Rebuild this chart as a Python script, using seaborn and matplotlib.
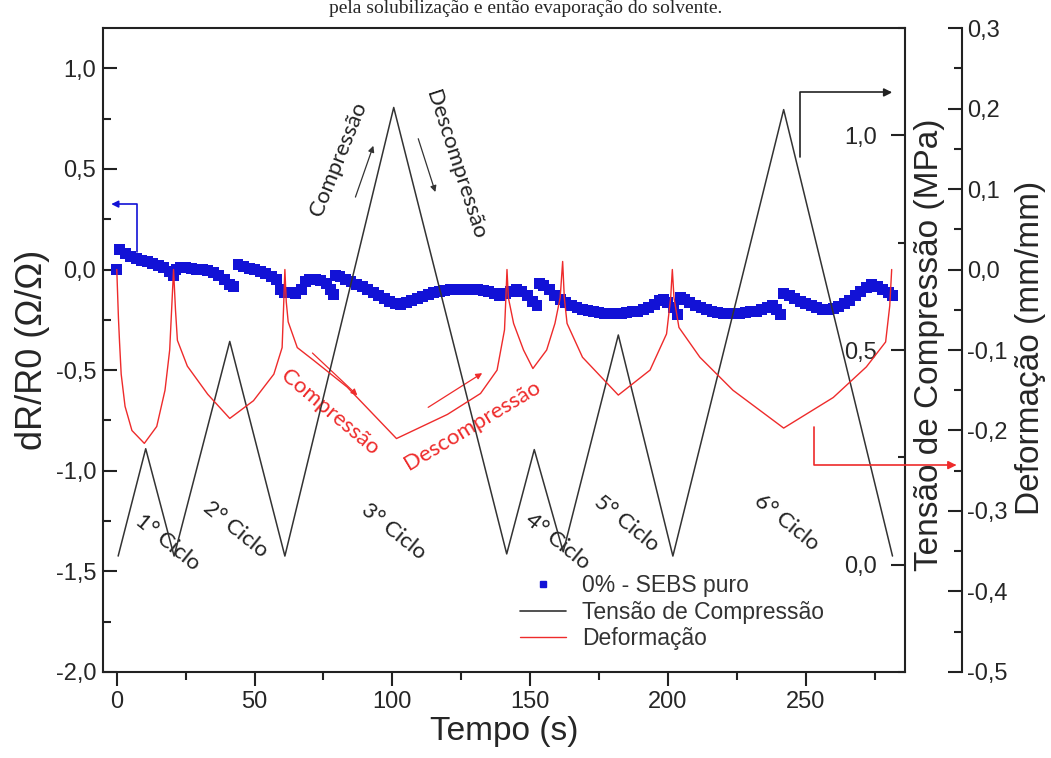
import matplotlib
matplotlib.use('Agg')
import matplotlib.pyplot as plt
import seaborn as sns
from matplotlib.ticker import MultipleLocator, FuncFormatter
from matplotlib.lines import Line2D

# dR/R0 da amostra 0% - SEBS puro
tempo_sebs = [0, 1, 3, 5, 7, 9, 11, 13, 15, 17, 19, 20.5,
              21.5, 23, 25, 27, 29, 31, 33, 35, 37, 39, 41, 42.5,
              44, 46, 48, 50, 52, 54, 56, 58, 59.5, 61, 63, 65, 67, 68.5, 70, 72, 74, 76, 77.5, 78.5,
              79.5, 81, 83, 85, 87, 89, 91, 93, 95, 97, 99, 101, 103, 105, 107, 109, 111, 113, 115,
              117, 119, 121, 123, 125, 127, 129, 131, 133, 135, 137, 139, 141, 143, 145, 147, 149, 151, 152.5,
              153.5, 155, 157, 159, 161, 163, 165, 167, 169, 171, 173, 175, 177, 179, 181, 183, 185, 187,
              189, 191, 193, 195, 197, 198.5, 200, 202, 203.5,
              204.5, 206, 208, 210, 212, 214, 216, 218, 220, 222, 224, 226, 228, 230, 232, 234, 236, 238,
              239.5, 241,
              242, 244, 246, 248, 250, 252, 254, 256, 258, 260, 262, 264, 266, 268, 270, 272, 274, 276,
              278, 280, 281.5]
dr_sebs = [0.0, 0.10, 0.08, 0.065, 0.055, 0.045, 0.04, 0.03, 0.02, 0.01, -0.01, -0.03,
           0.0, 0.012, 0.01, 0.005, 0.0, 0.0, -0.005, -0.015, -0.03, -0.05, -0.075, -0.085,
           0.025, 0.015, 0.005, 0.0, -0.01, -0.02, -0.035, -0.05, -0.1, -0.115, -0.115, -0.12, -0.1,
           -0.06, -0.05, -0.05, -0.055, -0.07, -0.1, -0.125,
           -0.03, -0.035, -0.05, -0.06, -0.075, -0.085, -0.1, -0.115, -0.13, -0.145, -0.16, -0.17,
           -0.175, -0.165, -0.155, -0.145, -0.135, -0.125, -0.115,
           -0.11, -0.105, -0.1, -0.1, -0.1, -0.1, -0.1, -0.1, -0.105, -0.11, -0.12, -0.13, -0.12, -0.11,
           -0.1, -0.11, -0.13, -0.16, -0.18,
           -0.07, -0.08, -0.1, -0.13, -0.15, -0.165, -0.18, -0.19, -0.2, -0.205, -0.21, -0.215, -0.22,
           -0.22, -0.22, -0.22, -0.215, -0.21,
           -0.21, -0.2, -0.19, -0.175, -0.155, -0.15, -0.165, -0.19, -0.225,
           -0.14, -0.15, -0.165, -0.18, -0.19, -0.2, -0.21, -0.215, -0.22, -0.22, -0.22, -0.22, -0.215,
           -0.21, -0.21, -0.2, -0.19, -0.18,
           -0.2, -0.225,
           -0.12, -0.13, -0.145, -0.16, -0.17, -0.18, -0.19, -0.2, -0.2, -0.195, -0.185, -0.17, -0.155,
           -0.13, -0.11, -0.09, -0.075, -0.085,
           -0.1, -0.115, -0.13]

# Tensão de compressão (MPa) - vértices dos ciclos
tempo_tensao = [0.5, 10.5, 20.8, 41, 61, 100.5, 141.5, 151.5, 162, 182, 201.8, 242, 281.5]
tensao = [0.02, 0.27, 0.02, 0.52, 0.02, 1.065, 0.025, 0.268, 0.03, 0.535, 0.02, 1.06, 0.02]

# Deformação (mm/mm)
tempo_deform = [0, 0.3, 0.6, 1.0, 1.6, 3.0, 5.5, 10, 14.5, 17.5, 19.2, 19.9, 20.6,
                21.3, 22, 25.6, 33, 41, 49.6, 57, 60, 60.5, 61,
                61.5, 62.2, 65.5, 71.5, 83.6, 101.5, 120, 132, 138, 140.7, 141.2, 141.6,
                142.1, 144, 147.6, 151, 156, 159, 160.9, 161.8,
                162.4, 163.4, 169, 182, 193.5, 199.5, 201, 201.6,
                202.2, 204, 211.6, 223.6, 242, 260, 272, 279, 280.5, 281.2]
deformacao = [0.0, -0.03, -0.06, -0.09, -0.13, -0.17, -0.2, -0.216, -0.195, -0.15, -0.1, -0.05, 0.0,
              -0.05, -0.088, -0.12, -0.155, -0.185, -0.163, -0.13, -0.097, -0.05, 0.0,
              -0.04, -0.065, -0.097, -0.113, -0.146, -0.21, -0.18, -0.154, -0.125, -0.075, -0.035, 0.0,
              -0.035, -0.067, -0.1, -0.123, -0.1, -0.067, -0.035, 0.01,
              -0.035, -0.067, -0.109, -0.156, -0.125, -0.08, -0.035, 0.0,
              -0.035, -0.072, -0.109, -0.15, -0.197, -0.159, -0.121, -0.09, -0.045, 0.0]

ciclos = ['1° Ciclo', '2° Ciclo', '3° Ciclo', '4° Ciclo', '5° Ciclo', '6° Ciclo']

azul = '#1212d6'
preto = '#333333'
vermelho = '#ee2b2b'

sns.set_theme(style='white')
plt.rcParams['font.family'] = ['Liberation Sans', 'DejaVu Sans']
plt.rcParams['axes.linewidth'] = 1.5

def virgula(v, pos):
    return f'{v:.1f}'.replace('.', ',')

fig = plt.figure(figsize=(10.51, 7.58), dpi=100)
ax = fig.add_axes([0.098, 0.1135, 0.763, 0.8495])
ax2 = ax.twinx()
ax3 = ax.twinx()

# dR/R0
sns.scatterplot(x=tempo_sebs, y=dr_sebs, ax=ax, marker='s', s=62, color=azul,
                edgecolor='none', legend=False)
# Tensão
sns.lineplot(x=tempo_tensao, y=tensao, ax=ax2, color=preto, lw=1.1,
             estimator=None, sort=False)
# Deformação
sns.lineplot(x=tempo_deform, y=deformacao, ax=ax3, color=vermelho, lw=1.0,
             estimator=None, sort=False)

# eixo principal
ax.set_xlim(-5, 286)
ax.set_ylim(-2.0, 1.2)
ax.xaxis.set_major_locator(MultipleLocator(50))
ax.xaxis.set_minor_locator(MultipleLocator(25))
ax.yaxis.set_major_locator(MultipleLocator(0.5))
ax.yaxis.set_minor_locator(MultipleLocator(0.25))
ax.yaxis.set_major_formatter(FuncFormatter(virgula))
ax.tick_params(axis='x', which='both', direction='out', bottom=True, top=False,
               width=1.5, color='#222222', labelsize=17, pad=4)
ax.tick_params(axis='x', which='major', length=10)
ax.tick_params(axis='x', which='minor', length=6)
ax.tick_params(axis='y', which='both', direction='in', left=True, right=False,
               width=1.5, color='#222222', labelsize=17, pad=5)
ax.tick_params(axis='y', which='major', length=10)
ax.tick_params(axis='y', which='minor', length=6)
ax.set_xlabel('Tempo (s)', fontsize=24, labelpad=2)
ax.set_ylabel('dR/R0 (Ω/Ω)', fontsize=26, labelpad=4)
for s in ax.spines.values():
    s.set_color('#222222')

# eixo da tensão (rótulos por dentro)
ax2.set_ylim(-0.25, 1.25)
ax2.yaxis.set_major_locator(MultipleLocator(0.5))
ax2.yaxis.set_minor_locator(MultipleLocator(0.25))
ax2.yaxis.set_major_formatter(FuncFormatter(virgula))
ax2.tick_params(axis='y', which='both', direction='in', width=1.5, color='#222222',
                labelsize=17, pad=-20)
ax2.tick_params(axis='y', which='major', length=10)
ax2.tick_params(axis='y', which='minor', length=5)
for lbl in ax2.get_yticklabels():
    lbl.set_horizontalalignment('right')
ax2.set_ylabel('Tensão de Compressão (MPa)', fontsize=24)
ax2.yaxis.set_label_coords(1.031, 0.508)
ax2.yaxis.label.set_verticalalignment('center')
for s in ax2.spines.values():
    s.set_visible(False)

# eixo da deformação (externo)
ax3.set_ylim(-0.5, 0.3)
ax3.spines['right'].set_position(('axes', 1.071))
ax3.spines['right'].set_color('#222222')
ax3.spines['right'].set_linewidth(1.5)
for nome in ['left', 'top', 'bottom']:
    ax3.spines[nome].set_visible(False)
ax3.yaxis.set_major_locator(MultipleLocator(0.1))
ax3.yaxis.set_minor_locator(MultipleLocator(0.05))
ax3.yaxis.set_major_formatter(FuncFormatter(virgula))
ax3.tick_params(axis='y', which='both', direction='in', width=1.5, color='#222222',
                labelsize=17, pad=4)
ax3.tick_params(axis='y', which='major', length=10)
ax3.tick_params(axis='y', which='minor', length=6)
ax3.set_ylabel('Deformação (mm/mm)', fontsize=24)
ax3.yaxis.set_label_coords(1.156, 0.503)
ax3.yaxis.label.set_verticalalignment('center')

# setas que indicam o eixo de cada série
ax.annotate('', xy=(-2, 0.325), xytext=(7.2, 0.085),
            arrowprops=dict(arrowstyle='-|>', color=azul, lw=1.2, mutation_scale=10,
                            shrinkA=0, shrinkB=0, connectionstyle='angle,angleA=90,angleB=0,rad=0'))
ax2.annotate('', xy=(281.4, 1.1), xytext=(247.8, 0.949),
             arrowprops=dict(arrowstyle='-|>', color='#222222', lw=1.2, mutation_scale=12,
                             shrinkA=0, shrinkB=0, connectionstyle='angle,angleA=90,angleB=0,rad=0'))
ax3.annotate('', xy=(304.7, -0.243), xytext=(253, -0.196), annotation_clip=False,
             arrowprops=dict(arrowstyle='-|>', color=vermelho, lw=1.2, mutation_scale=12,
                             shrinkA=0, shrinkB=0, connectionstyle='angle,angleA=90,angleB=0,rad=0'))

# textos de compressão / descompressão
fonte_anot = ['Lato', 'DejaVu Sans']
ax.text(80.4, 0.55, 'Compressão', rotation=68, fontsize=16, color='#222222',
        family=fonte_anot, ha='center', va='center', rotation_mode='anchor')
ax.annotate('', xy=(93.1, 0.615), xytext=(86.6, 0.36),
            arrowprops=dict(arrowstyle='-|>', color='#333333', lw=0.9, mutation_scale=9,
                            shrinkA=0, shrinkB=0))
ax.text(122.8, 0.52, 'Descompressão', rotation=-72, fontsize=16, color='#222222',
        family=fonte_anot, ha='center', va='center', rotation_mode='anchor')
ax.annotate('', xy=(115.6, 0.385), xytext=(109.4, 0.65),
            arrowprops=dict(arrowstyle='-|>', color='#333333', lw=0.9, mutation_scale=9,
                            shrinkA=0, shrinkB=0))
ax.text(77.2, -0.71, 'Compressão', rotation=-40, fontsize=16, color=vermelho,
        family=fonte_anot, ha='center', va='center', rotation_mode='anchor')
ax.annotate('', xy=(87.3, -0.625), xytext=(71, -0.415),
            arrowprops=dict(arrowstyle='-|>', color=vermelho, lw=0.9, mutation_scale=9,
                            shrinkA=0, shrinkB=0))
ax.text(129, -0.775, 'Descompressão', rotation=31, fontsize=16, color=vermelho,
        family=fonte_anot, ha='center', va='center', rotation_mode='anchor')
ax.annotate('', xy=(132.6, -0.515), xytext=(113, -0.685),
            arrowprops=dict(arrowstyle='-|>', color=vermelho, lw=0.9, mutation_scale=9,
                            shrinkA=0, shrinkB=0))

# rótulos dos ciclos
pos_ciclos = [(18.5, -1.355), (43.1, -1.29), (100.4, -1.3), (159.8, -1.35), (185, -1.26), (243, -1.255)]
for nome, (tx, ty) in zip(ciclos, pos_ciclos):
    ax.text(tx, ty, nome, rotation=-39, fontsize=16, color='#222222', family=fonte_anot,
            ha='center', va='center', rotation_mode='anchor')

# legenda
handles = [Line2D([], [], ls='none', marker='s', ms=4, color=azul),
           Line2D([], [], color=preto, lw=1.2),
           Line2D([], [], color=vermelho, lw=1.0)]
labels = ['0% - SEBS puro', 'Tensão de Compressão', 'Deformação']
leg = ax3.legend(handles, labels, loc='upper left', bbox_to_anchor=(0.52, 0.152),
                 frameon=False, fontsize=16.5, handlelength=2.0, handletextpad=0.7,
                 labelspacing=0.15, borderpad=0, borderaxespad=0)
for t in leg.get_texts():
    t.set_color('#333333')

# linha de texto do documento, logo acima do gráfico
fig.text(0.5, 1.0, 'pela solubilização e então evaporação do solvente.',
         ha='center', va='top', fontsize=14, family=['Liberation Serif', 'DejaVu Serif'])

fig.savefig('out.png', dpi=100)
